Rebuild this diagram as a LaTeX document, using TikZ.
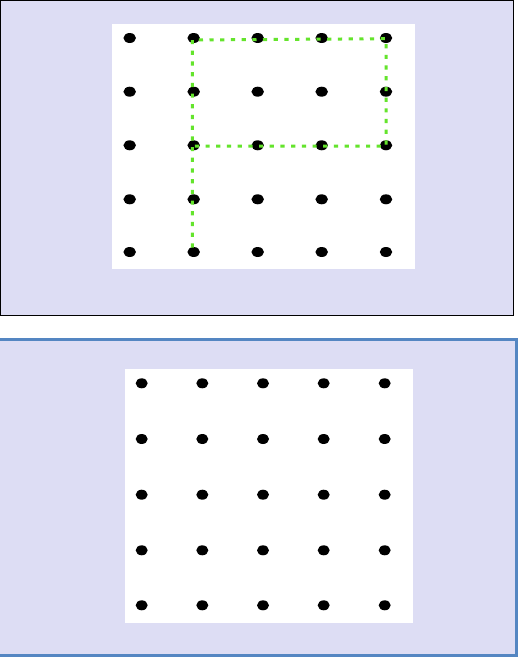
\documentclass[tikz,border=0pt]{standalone}
\usetikzlibrary{shapes.geometric}
\definecolor{lav}{RGB}{221,221,244}
\definecolor{panelblue}{RGB}{84,134,194}
\definecolor{pgreen}{RGB}{100,228,44}
\tikzset{
  dotnode/.style={ellipse,fill=black,inner sep=0pt,minimum width=12.5pt,minimum height=10pt},
  pline/.style={draw=pgreen,line width=3pt,dash pattern=on 4.2pt off 6.5pt},
}
\begin{document}
\begin{tikzpicture}[x=1pt,y=-1pt]
\useasboundingbox (0,0) rectangle (523,672);
% top panel
\filldraw[fill=lav,draw=black,line width=1pt] (0.5,0.5) rectangle (513.3,315.5);
\fill[white] (112,24) rectangle (415,269);
\foreach \x [count=\c] in {129.7,193.7,257.7,321.7,386}{
  \foreach \y [count=\r] in {38,91.7,145.3,199.3,252}{
    \node[dotnode] (t\c\r) at (\x,\y) {};
  }
}
\draw[pline] ([xshift=-1.4pt,yshift=4.5pt]t25.center) -- ([xshift=-1.4pt,yshift=-2pt]t21.center) -- ([yshift=-0.7pt]t51.center) -- ([yshift=-0.7pt]t53.center) -- ([xshift=-1.4pt,yshift=-0.7pt]t23.center);
% bottom panel
\filldraw[fill=lav,draw=panelblue,line width=2.7pt] (-3,339.5) rectangle (516.3,655.3);
\fill[white] (125,369) rectangle (412.7,622.7);
\foreach \x [count=\c] in {141.7,202.3,263,323.7,384.7}{
  \foreach \y [count=\r] in {383.3,439,494.7,550.3,605.3}{
    \node[dotnode,minimum width=12pt] (b\c\r) at (\x,\y) {};
  }
}
\end{tikzpicture}
\end{document}
